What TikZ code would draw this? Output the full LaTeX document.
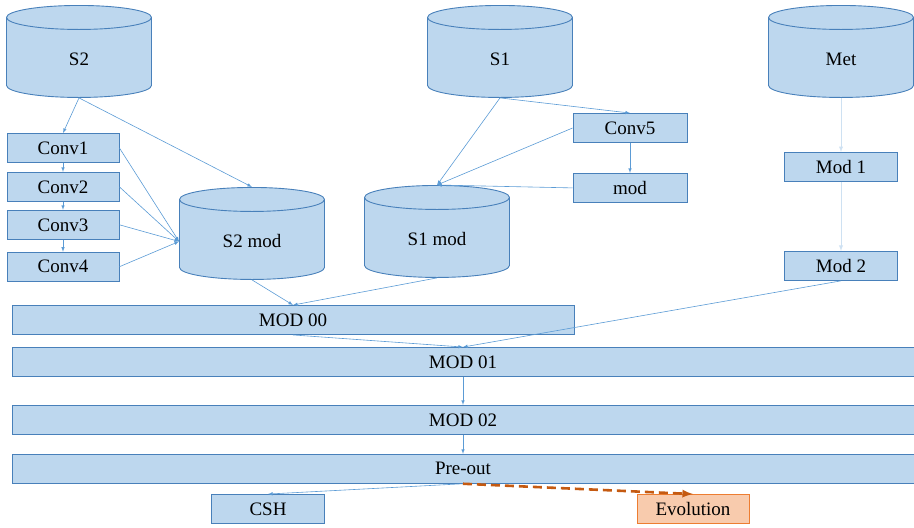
\documentclass[tikz,border=0pt]{standalone}
\usepackage{fontspec}
\setmainfont{Liberation Serif}
\usepackage{tikz}
\usetikzlibrary{positioning, shapes, arrows}

\definecolor{boxfill}{RGB}{189,215,238}
\definecolor{boxline}{RGB}{72,128,186}
\definecolor{linkblue}{RGB}{91,155,213}
\definecolor{evofill}{RGB}{248,203,173}
\definecolor{evoline}{RGB}{237,125,49}
\definecolor{evoarrow}{RGB}{197,90,17}

% testo del cilindro a larghezza fissa, cosi' la forma resta uguale
\newcommand{\dbtext}[1]{\makebox[20pt]{#1}}

\begin{document}
\begin{tikzpicture}[x=1pt, y=-1pt, font=\fontsize{19}{22}\selectfont,
		box/.style={rectangle, draw=boxline, fill=boxfill, line width=0.9pt, minimum height=29pt, inner sep=0pt},
		db/.style={cylinder, shape border rotate=90, aspect=0.9, draw=boxline, fill=boxfill, line width=0.9pt, minimum width=145pt, minimum height=92pt, anchor=north},
		link/.style={-latex, draw=linkblue, line width=0.6pt},
		faint/.style={-latex, draw=linkblue!30, line width=0.9pt}]
	\useasboundingbox (0,0) rectangle (914,528);
	
	% Sorgenti
	\node[db] (s2) at (79,5) {\dbtext{S2}};
	\node[db] (s1) at (500,5) {\dbtext{S1}};
	\node[db] (met) at (841,5) {\dbtext{Met}};
	
	% Catena Conv
	\node[box, minimum width=112pt] (conv1) at (63,148) {Conv1};
	\node[box, minimum width=112pt, below=9pt of conv1] (conv2) {Conv2};
	\node[box, minimum width=112pt, below=8pt of conv2] (conv3) {Conv3};
	\node[box, minimum width=112pt, below=12pt of conv3] (conv4) {Conv4};
	\node[box, minimum width=114pt] (conv5) at (630,128) {Conv5};
	\node[box, minimum width=114pt, below=30pt of conv5] (modb) {mod};
	
	% Dati modificati
	\node[db] (s2mod) at (252,187) {\dbtext{S2 mod}};
	\node[db] (s1mod) at (437,185) {\dbtext{S1 mod}};
	
	\node[box, minimum width=113pt] (mod1) at (841,167) {Mod 1};
	\node[box, minimum width=113pt, below=69pt of mod1] (mod2) {Mod 2};
	
	% Modelli
	\node[box, minimum width=562pt] (mod00) at (293,320) {MOD 00};
	\node[box, minimum width=902pt] (mod01) at (463,362) {MOD 01};
	\node[box, minimum width=902pt, below=28pt of mod01] (mod02) {MOD 02};
	\node[box, minimum width=902pt, below=19pt of mod02] (preout) {Pre-out};
	
	% Uscite
	\node[box, minimum width=113pt] (csh) at (268,509) {CSH};
	\node[box, minimum width=112pt, draw=evoline, fill=evofill] (evol) at (693,509) {Evolution};
	
	% Connessioni
	\draw[link] (s2.south) -- (conv1.north);
	\draw[link] (s2.south) -- (s2mod.north);
	\draw[link] (conv1) -- (conv2);
	\draw[link] (conv2) -- (conv3);
	\draw[link] (conv3) -- (conv4);
	\foreach \c in {conv1, conv2, conv3, conv4}
		\draw[link] (\c.east) -- (s2mod.west);
	
	\draw[link] (s1.south) -- (s1mod.north);
	\draw[link] (s1.south) -- (conv5.north);
	\draw[link] (conv5.west) -- (s1mod.north);
	\draw[link] (conv5) -- (modb);
	\draw[link] (modb.west) -- (s1mod.north);
	
	\draw[faint] (met.south) -- (mod1.north);
	\draw[faint] (mod1) -- (mod2);
	
	\draw[link] (s2mod.south) -- (mod00.north);
	\draw[link] (s1mod.south) -- (mod00.north);
	\draw[link] (mod00.south) -- (mod01.north);
	\draw[link] (mod2.south) -- (mod01.north);
	\draw[link] (mod01) -- (mod02);
	\draw[link] (mod02) -- (preout);
	
	\draw[link] (preout.south) -- (csh.north);
	\draw[-latex, draw=evoarrow, line width=2.6pt, dash pattern=on 9pt off 5pt] (preout.south) -- (evol.north);
\end{tikzpicture}
\end{document}
